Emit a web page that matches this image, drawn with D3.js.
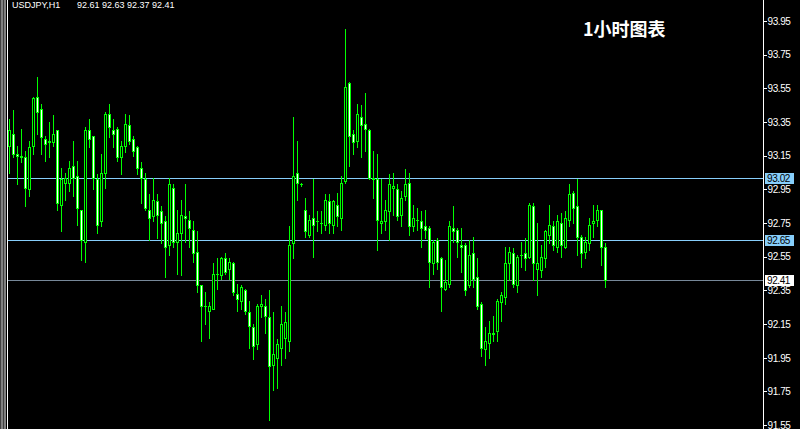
<!DOCTYPE html>
<html>
<head>
<meta charset="utf-8">
<script src="https://cdn.jsdelivr.net/npm/d3@7/dist/d3.min.js"></script>
<style>
html,body{margin:0;padding:0;background:#000;}
svg{display:block;}
</style>
</head>
<body>
<svg id="chart" width="800" height="429"></svg>
<script>
const symbolTitle = "USDJPY,H1";
const lastQuote = "92.61 92.63 92.37 92.41";
const chartTitle = "1小时图表";

const opens = [93.21,93.28,93.16,93.15,93.14,92.95,93.21,93.50,93.43,93.25,93.24,93.23,93.30,92.86,92.99,92.99,93.09,93.03,92.83,92.64,
93.30,93.27,93.01,92.76,93.05,93.40,93.30,93.31,93.14,93.21,93.33,93.25,93.20,93.08,93.01,92.83,92.79,92.88,92.82,92.76,
92.62,92.96,92.64,92.69,92.79,92.77,92.71,92.58,92.38,92.26,92.23,92.24,92.45,92.44,92.54,92.48,92.51,92.33,92.29,92.35,
92.22,92.13,92.03,92.26,92.26,92.19,91.91,91.95,92.01,92.07,92.05,92.63,93.05,92.98,92.83,92.68,92.78,92.76,92.75,92.74,
92.88,92.74,92.86,92.78,93.00,93.58,93.28,93.24,93.38,93.34,93.30,93.02,93.01,92.75,92.76,92.82,92.96,92.95,92.80,92.91,
92.99,92.73,92.77,92.76,92.73,92.72,92.51,92.65,92.54,92.36,92.39,92.72,92.71,92.62,92.62,92.38,92.57,92.43,92.27,92.00,
92.04,92.09,92.11,92.28,92.31,92.51,92.57,92.38,92.56,92.57,92.55,92.85,92.48,92.47,92.54,92.68,92.73,92.61,92.75,92.61,
92.77,92.93,92.85,92.67,92.58,92.63,92.75,92.77,92.83,92.61];
const highs = [93.37,93.42,93.21,93.31,93.18,93.24,93.50,93.62,93.46,93.27,93.35,93.39,93.30,93.08,93.05,93.12,93.24,93.12,92.83,93.32,
93.37,93.27,93.04,93.16,93.41,93.46,93.37,93.32,93.24,93.40,93.39,93.27,93.21,93.11,93.05,92.92,93.02,92.92,92.85,92.79,
93.02,92.98,92.83,92.89,92.98,92.82,92.76,92.70,92.38,92.34,92.28,92.51,92.54,92.55,92.57,92.54,92.52,92.39,92.38,92.36,
92.29,92.15,92.27,92.32,92.30,92.35,92.22,92.06,92.26,92.22,92.73,93.38,93.24,92.99,92.90,92.80,93.01,92.82,92.82,92.92,
92.92,92.89,92.93,93.03,93.90,93.59,93.30,93.46,93.45,93.52,93.31,93.18,93.16,93.01,92.89,93.04,93.05,92.98,92.94,93.07,
93.05,92.86,92.84,92.82,92.83,92.73,92.65,92.66,92.55,92.53,92.76,92.85,92.72,92.72,92.63,92.65,92.67,92.54,92.28,92.13,
92.17,92.20,92.30,92.34,92.61,92.61,92.60,92.56,92.64,92.66,92.87,92.87,92.75,92.62,92.71,92.86,92.76,92.80,92.81,92.82,
92.98,92.94,93.01,92.68,92.67,92.78,92.86,92.86,92.83,92.63];
const lows = [93.05,93.14,92.98,93.11,92.85,92.91,93.16,93.28,93.16,93.12,93.14,93.21,92.83,92.70,92.89,92.94,92.91,92.74,92.53,92.52,
93.20,92.95,92.69,92.73,92.96,93.26,93.20,93.12,93.04,93.17,93.22,93.15,93.04,92.87,92.83,92.65,92.76,92.66,92.63,92.43,
92.56,92.61,92.45,92.44,92.64,92.61,92.52,92.34,92.05,92.15,92.07,92.24,92.36,92.42,92.45,92.42,92.32,92.23,92.24,92.21,
92.01,91.94,92.00,92.19,92.10,91.58,91.76,91.77,91.91,91.95,91.99,92.54,92.89,92.97,92.67,92.67,92.55,92.70,92.69,92.71,
92.69,92.69,92.73,92.71,92.99,93.09,93.16,93.20,93.14,93.18,93.01,92.90,92.59,92.69,92.71,92.65,92.80,92.77,92.73,92.89,
92.68,92.70,92.71,92.61,92.66,92.37,92.45,92.48,92.23,92.35,92.37,92.64,92.55,92.46,92.32,92.37,92.37,92.24,91.96,91.91,
91.95,92.05,92.05,92.17,92.27,92.41,92.37,92.34,92.49,92.47,92.54,92.41,92.32,92.43,92.49,92.63,92.59,92.58,92.55,92.60,
92.73,92.75,92.56,92.49,92.54,92.59,92.67,92.73,92.50,92.37];
const closes = [93.30,93.16,93.15,93.14,92.96,93.20,93.49,93.41,93.26,93.22,93.23,93.28,92.87,93.01,93.02,93.08,93.02,92.84,92.65,93.30,
93.25,93.02,92.74,93.05,93.40,93.32,93.28,93.14,93.21,93.34,93.24,93.18,93.08,93.02,92.84,92.78,92.89,92.80,92.75,92.61,
92.98,92.64,92.69,92.80,92.78,92.72,92.57,92.38,92.26,92.26,92.26,92.45,92.45,92.54,92.46,92.52,92.34,92.30,92.37,92.23,
92.14,92.02,92.26,92.27,92.20,91.90,91.97,92.03,92.15,92.16,92.62,93.03,92.99,92.98,92.70,92.77,92.74,92.76,92.75,92.89,
92.75,92.88,92.79,92.99,93.56,93.27,93.23,93.40,93.33,93.31,93.02,93.01,92.77,92.76,92.83,92.98,92.97,92.79,92.90,92.98,
92.73,92.78,92.77,92.72,92.71,92.52,92.64,92.52,92.37,92.40,92.73,92.70,92.64,92.61,92.35,92.56,92.42,92.26,92.01,92.05,
92.10,92.10,92.29,92.32,92.51,92.58,92.39,92.55,92.56,92.54,92.86,92.51,92.51,92.55,92.70,92.74,92.62,92.76,92.62,92.78,
92.92,92.84,92.67,92.57,92.64,92.74,92.76,92.83,92.61,92.41];

const tickValues = [93.95,93.75,93.55,93.35,93.15,92.95,92.75,92.55,92.35,92.15,91.95,91.75,91.55];
const hLineValues = [93.02, 92.65];
const bidValue = 92.41;

const svg = d3.select("#chart");
const W = 800, H = 429;
svg.append("rect").attr("width", W).attr("height", H).attr("fill", "#000");

const x = d3.scaleLinear().domain([0, opens.length - 1]).range([9, 605]);
const y = d3.scaleLinear().domain([91.55, 93.95]).range([425.16, 21]);
const py = v => Math.round(y(v));

// left window border
svg.append("rect").attr("x", 0).attr("y", 0).attr("width", 1).attr("height", H).attr("fill", "#404040");
svg.append("rect").attr("x", 1).attr("y", 0).attr("width", 2).attr("height", H).attr("fill", "#808080");
svg.append("rect").attr("x", 3).attr("y", 0).attr("width", 1).attr("height", H).attr("fill", "#404040");
svg.append("rect").attr("x", 4).attr("y", 0).attr("width", 2).attr("height", H).attr("fill", "#808080");
svg.append("rect").attr("x", 7).attr("y", 0).attr("width", 1).attr("height", H).attr("fill", "#ffffff");

// horizontal lines
const gl = svg.append("g").attr("shape-rendering", "crispEdges");
gl.selectAll("line.h").data(hLineValues).join("line")
  .attr("x1", 8).attr("x2", 763)
  .attr("y1", d => py(d) + 0.5).attr("y2", d => py(d) + 0.5)
  .attr("stroke", "#87cefa").attr("stroke-width", 1);
gl.append("line").attr("x1", 8).attr("x2", 763)
  .attr("y1", py(bidValue) + 0.5).attr("y2", py(bidValue) + 0.5)
  .attr("stroke", "#778899").attr("stroke-width", 1);

// candles
const data = opens.map((o, i) => ({i, o, h: highs[i], l: lows[i], c: closes[i]}));
const gc = svg.append("g").attr("shape-rendering", "crispEdges");
const cg = gc.selectAll("g.c").data(data).join("g");
cg.append("rect")
  .attr("x", d => Math.round(x(d.i)))
  .attr("y", d => py(d.h))
  .attr("width", 1)
  .attr("height", d => py(d.l) - py(d.h) + 1)
  .attr("fill", "#00ff00");
cg.append("rect")
  .attr("x", d => Math.round(x(d.i)) - 1)
  .attr("y", d => py(Math.max(d.o, d.c)))
  .attr("width", 3)
  .attr("height", d => Math.max(1, py(Math.min(d.o, d.c)) - py(Math.max(d.o, d.c)) + 1))
  .attr("fill", "#00ff00");
cg.filter(d => py(Math.min(d.o, d.c)) - py(Math.max(d.o, d.c)) >= 2)
  .append("rect")
  .attr("x", d => Math.round(x(d.i)))
  .attr("y", d => py(Math.max(d.o, d.c)) + 1)
  .attr("width", 1)
  .attr("height", d => py(Math.min(d.o, d.c)) - py(Math.max(d.o, d.c)) - 1)
  .attr("fill", d => d.c >= d.o ? "#000000" : "#ffffff");

// right axis
svg.append("rect").attr("x", 763).attr("y", 0).attr("width", 1).attr("height", H).attr("fill", "#ffffff");
const axis = d3.axisRight(y).tickValues(tickValues).tickSize(3).tickFormat(d3.format(".2f"));
const ga = svg.append("g").attr("transform", "translate(763.5,0)").call(axis);
ga.select(".domain").remove();
ga.selectAll(".tick line").attr("stroke", "#ffffff").attr("shape-rendering", "crispEdges");
ga.selectAll(".tick text").attr("fill", "#ffffff").attr("x", 4)
  .attr("font-family", "'Liberation Sans', Arial, sans-serif").attr("font-size", 10).attr("letter-spacing", "-0.4px");

// price labels
const labels = hLineValues.map(v => ({v, bg: "#87cefa"})).concat([{v: bidValue, bg: "#ffffff"}]);
const gp = svg.append("g");
gp.selectAll("rect").data(labels).join("rect")
  .attr("x", 765).attr("y", d => py(d.v) - 5).attr("width", 29).attr("height", 11)
  .attr("fill", d => d.bg).attr("shape-rendering", "crispEdges");
gp.selectAll("text").data(labels).join("text")
  .attr("x", 767).attr("y", d => py(d.v) + 4)
  .attr("font-family", "'Liberation Sans', Arial, sans-serif").attr("font-size", 10).attr("letter-spacing", "-0.4px")
  .attr("fill", "#000").text(d => d.v.toFixed(2));

// titles
svg.append("text").attr("x", 12).attr("y", 8)
  .attr("font-family", "'Liberation Sans', Arial, sans-serif").attr("font-size", 9).attr("fill", "#fff")
  .text(symbolTitle);
svg.append("text").attr("x", 77).attr("y", 8)
  .attr("font-family", "'Liberation Sans', Arial, sans-serif").attr("font-size", 9).attr("fill", "#fff")
  .text(lastQuote);
svg.append("text").attr("x", 583).attr("y", 36)
  .attr("font-family", "'Noto Sans CJK SC', sans-serif").attr("font-size", 18).attr("font-weight", "bold").attr("fill", "#fff")
  .text(chartTitle);
</script>
</body>
</html>
